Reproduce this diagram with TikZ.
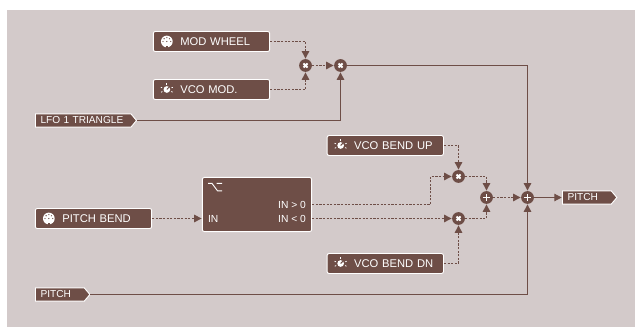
\documentclass[tikz,border=0pt]{standalone}
\usepackage{xcolor}
\usepackage{fontspec}
\setsansfont{Liberation Sans}
\usepackage{tikz}
\usetikzlibrary{arrows.meta,positioning,shapes.symbols,calc}
\definecolor{panel}{HTML}{D3CACA}
\definecolor{brick}{HTML}{6E4E47}

\begin{document}
\begin{tikzpicture}[x=.75pt,y=-.75pt,font=\sffamily,
  ctrl/.style={rectangle,draw=white,fill=brick,text=white,line width=.7pt,rounded corners=1.5pt,
    minimum height=15pt,inner sep=0pt,align=left,text width=87.3pt,text depth=0pt,
    font=\sffamily\fontsize{8.4}{10}\selectfont,text height=6pt,execute at begin node={\hspace*{20.3pt}}},
  tag/.style={signal,signal to=east,signal pointer angle=100,draw=white,fill=brick,text=white,line width=.7pt,
    inner xsep=3.8pt,inner ysep=0pt,minimum height=10pt,align=left,font=\sffamily\fontsize{7.6}{9}\selectfont},
  lbl/.style={text=white,inner sep=0pt,font=\sffamily\fontsize{7.7}{9}\selectfont},
  mix/.style={circle,fill=brick,draw=none,minimum size=9.6pt,inner sep=0pt},
  multnode/.style={mix,path picture={\draw[white,line width=1.4pt]
    ([shift={(-1.5pt,-1.5pt)}]path picture bounding box.center) -- ([shift={(1.5pt,1.5pt)}]path picture bounding box.center)
    ([shift={(-1.5pt,1.5pt)}]path picture bounding box.center) -- ([shift={(1.5pt,-1.5pt)}]path picture bounding box.center);}},
  addnode/.style={mix,path picture={\draw[white,line width=1.4pt]
    ([xshift=-2.4pt]path picture bounding box.center) -- ([xshift=2.4pt]path picture bounding box.center)
    ([yshift=-2.4pt]path picture bounding box.center) -- ([yshift=2.4pt]path picture bounding box.center);}},
  solidline/.style={brick,line width=.9pt,-{Triangle[length=5.6pt,width=5.6pt]},shorten >=.2pt},
  dotline/.style={solidline,dash pattern=on 1.7pt off 1pt},
  midi/.pic={
    \fill[white] (0,0) circle (4.4pt);
    \foreach \a in {0,45,...,180} {\fill[brick] (\a:2.9pt) circle (.5pt);}
    \fill[brick] (0,0) circle (.5pt);
    \fill[brick] (-.6pt,-4.6pt) rectangle (.6pt,-3.5pt);},
  knob/.pic={
    \fill[white] (0,0) circle (2.5pt);
    \draw[brick,line width=.7pt] (0,0) -- (45:2.5pt);
    \foreach \a in {90,160,20,205,335} {\draw[white,line width=.6pt] (\a:3.7pt) -- (\a:4.8pt);}}]

\useasboundingbox (0,0) rectangle (635,327);
\fill[panel] (7,10) rectangle (635,327);

% controls
\node[ctrl] (modwheel) at (211.5,41.5) {MOD WHEEL};
\node[ctrl,below=20.3pt of modwheel] (vcomod) {VCO MOD.};
\node[ctrl] (bendup) at (385.3,145.5) {VCO BEND UP};
\node[ctrl,below=72.8pt of bendup] (benddn) {VCO BEND DN};
\node[ctrl] (pbend) at (93.5,218.5) {PITCH BEND};
\foreach \n in {modwheel,pbend} {\pic at ([xshift=10.5pt]\n.west) {midi};}
\foreach \n in {vcomod,bendup,benddn} {\pic at ([xshift=10.5pt]\n.west) {knob};}

% inputs and output
\node[tag,anchor=west,text width=64pt] (lfo) at (35,120.5) {LFO 1 TRIANGLE};
\node[tag,anchor=west,text width=29pt] (pitchin) at (35,294.5) {PITCH};
\node[tag,anchor=west,text width=29pt] (pitchout) at (562,197.5) {PITCH};

% switch
\node[ctrl,minimum width=82pt,minimum height=40.6pt,text width=82pt] (sw) at (257,204.5) {};
\node[lbl,anchor=east] (gt) at ([xshift=-4.5pt]sw.east) {IN > 0};
\node[lbl,anchor=east] (lt) at ([yshift=-10.5pt]gt.east) {IN < 0};
\node[lbl,anchor=west] (swin) at ([xshift=4.5pt,yshift=-10.5pt]sw.west) {IN};
\draw[white,line width=.7pt] (208,183.4) -- (212,183.4) -- (217.5,190.8) -- (222,190.8) (216.5,183.4) -- (222,183.4);

% mixers
\node[multnode] (mixa) at (305.5,65.5) {};
\node[multnode,right=16.25pt of mixa] (mixb) {};
\node[multnode] (multup) at (458.5,176.5) {};
\node[multnode] (multdn) at (458.5,218.5) {};
\node[addnode] (plus) at (486.5,197.5) {};
\node[addnode] (sum) at (527.5,197.5) {};
\coordinate (elbow) at ([xshift=-21pt]multup.center |- gt);

% connectors
\draw[dotline] (modwheel) -| (mixa);
\draw[dotline] (vcomod) -| (mixa);
\draw[dotline] (mixa) -- (mixb);
\draw[solidline] (lfo.east) -| (mixb);
\draw[solidline] (mixb) -| (sum);
\draw[dotline] (pbend) -- (sw.west |- pbend);
\draw[dotline] (sw.east |- gt) -- (elbow) |- (multup);
\draw[dotline] (sw.east |- lt) -- (multdn);
\draw[dotline] (bendup) -| (multup);
\draw[dotline] (benddn) -| (multdn);
\draw[dotline] (multup) -| (plus);
\draw[dotline] (multdn) -| (plus);
\draw[dotline] (plus) -- (sum);
\draw[solidline] (pitchin.east) -| (sum);
\draw[solidline] (sum) -- (pitchout.west);
\end{tikzpicture}
\end{document}
